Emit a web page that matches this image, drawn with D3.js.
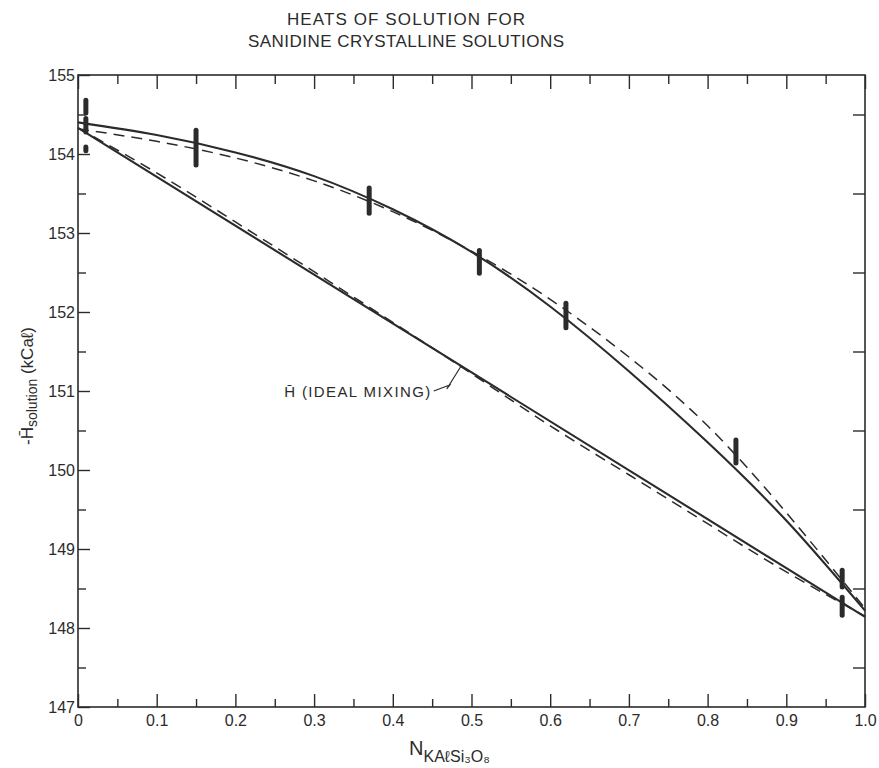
<!DOCTYPE html>
<html>
<head>
<meta charset="utf-8">
<script src="https://cdn.jsdelivr.net/npm/d3@7"></script>
<style>
  body { margin: 0; background: #fff; }
  text { font-family: "Liberation Sans", "DejaVu Sans", sans-serif; fill: #2b2b2b; }
</style>
</head>
<body>
<div id="chart"></div>
<script>
// data
var titleLines = ["HEATS OF SOLUTION FOR", "SANIDINE CRYSTALLINE SOLUTIONS"];
var xTicks = [0, 0.1, 0.2, 0.3, 0.4, 0.5, 0.6, 0.7, 0.8, 0.9, 1.0];
var xTickLabels = ["0", "0.1", "0.2", "0.3", "0.4", "0.5", "0.6", "0.7", "0.8", "0.9", "1.0"];
var xMinor = [0.05, 0.15, 0.25, 0.35, 0.45, 0.55, 0.65, 0.75, 0.85, 0.95];
var yTicks = [147, 148, 149, 150, 151, 152, 153, 154, 155];
var yMinor = [147.5, 148.5, 149.5, 150.5, 151.5, 152.5, 153.5, 154.5];

// measured heats: [N, low, high]
var measured = [
  [0.01, 154.52, 154.68],
  [0.01, 154.28, 154.45],
  [0.01, 154.04, 154.09],
  [0.15, 153.86, 154.30],
  [0.37, 153.25, 153.57],
  [0.51, 152.49, 152.78],
  [0.62, 151.80, 152.11],
  [0.836, 150.09, 150.38],
  [0.971, 148.52, 148.73],
  [0.971, 148.16, 148.39]
];

// fitted curves [N, -H]
var fitSolid = [[0,154.40],[0.1,154.24],[0.2,154.02],[0.3,153.72],[0.4,153.30],[0.5,152.76],
  [0.6,152.07],[0.7,151.25],[0.8,150.35],[0.9,149.36],[1.0,148.22]];
var fitDashed = [[0,154.32],[0.1,154.16],[0.2,153.95],[0.3,153.66],[0.4,153.27],[0.5,152.77],
  [0.6,152.16],[0.7,151.43],[0.8,150.56],[0.9,149.46],[1.0,148.25]];
var idealSolid = [[0,154.33],[1.0,148.14]];
var idealDashed = [[0,154.33],[0.1,153.76],[0.2,153.14],[0.3,152.51],[0.4,151.87],[0.5,151.22],
  [0.6,150.56],[0.7,149.94],[0.8,149.32],[0.9,148.71],[1.0,148.15]];

var ink = "#2b2b2b";

function chart(){
  var margin = {top: 75, right: 14, bottom: 61, left: 78};
  var width = 879 - margin.left - margin.right, height = 768 - margin.top - margin.bottom;

  var root = d3.select("#chart")
    .append("svg")
    .attr("width", 879)
    .attr("height", 768);

  var svg = root.append("g")
    .attr("transform", "translate(" + margin.left + "," + margin.top + ")");

  var x = d3.scaleLinear().domain([0, 1]).range([0, width]);
  var y = d3.scaleLinear().domain([147, 155]).range([height, 0]);

  // title
  root.selectAll(".title")
    .data(titleLines)
    .enter()
    .append("text")
    .attr("x", 406)
    .attr("y", function(d, i){ return 25 + i * 22; })
    .attr("text-anchor", "middle")
    .attr("font-size", 17)
    .attr("textLength", function(d, i){ return i == 0 ? 238 : 316; })
    .attr("lengthAdjust", "spacing")
    .text(function(d){ return d; });

  // frame
  svg.append("rect")
    .attr("width", width)
    .attr("height", height)
    .attr("fill", "none")
    .attr("stroke", ink)
    .attr("stroke-width", 1.6);

  function styleAxis(g){
    g.select(".domain").remove();
    g.selectAll("line").attr("stroke", ink).attr("stroke-width", 1.4);
    g.selectAll("text").attr("font-size", 16).attr("fill", ink).style("font-family", "Liberation Sans, sans-serif");
  }

  // bottom axis
  svg.append("g")
    .attr("transform", "translate(0," + height + ")")
    .call(d3.axisBottom(x).tickValues(xTicks).tickSize(-13).tickPadding(8)
      .tickFormat(function(d, i){ return xTickLabels[i]; }))
    .call(styleAxis);
  svg.append("g")
    .attr("transform", "translate(0," + height + ")")
    .call(d3.axisBottom(x).tickValues(xMinor).tickSize(-8).tickFormat(""))
    .call(styleAxis);

  // top axis
  svg.append("g")
    .call(d3.axisTop(x).tickValues(xTicks).tickSize(-14).tickFormat(""))
    .call(styleAxis);
  svg.append("g")
    .call(d3.axisTop(x).tickValues(xMinor).tickSize(-9).tickFormat(""))
    .call(styleAxis);

  // left axis
  svg.append("g")
    .call(d3.axisLeft(y).tickValues(yTicks).tickSize(-12).tickPadding(3).tickFormat(d3.format("d")))
    .call(styleAxis);
  svg.append("g")
    .call(d3.axisLeft(y).tickValues(yMinor).tickSize(-8).tickFormat(""))
    .call(styleAxis);

  // right axis
  svg.append("g")
    .attr("transform", "translate(" + width + ",0)")
    .call(d3.axisRight(y).tickValues(yMinor).tickSize(-12).tickFormat(""))
    .call(styleAxis);

  // axis labels
  var xl = root.append("text")
    .attr("x", 409)
    .attr("y", 755)
    .attr("font-size", 20);
  xl.append("tspan").text("N");
  xl.append("tspan").attr("dy", 7).attr("font-size", 16).text("KAℓSi₃O₈");

  var yl = root.append("text")
    .attr("transform", "translate(33,386) rotate(-90)")
    .attr("text-anchor", "middle")
    .attr("font-size", 17);
  yl.append("tspan").text("-H\u0304");
  yl.append("tspan").attr("dy", 4).attr("font-size", 14).text("solution");
  yl.append("tspan").attr("dy", -4).text(" (kCaℓ)");

  // curves
  var line = d3.line()
    .x(function(d){ return x(d[0]); })
    .y(function(d){ return y(d[1]); })
    .curve(d3.curveNatural);

  var curves = [
    {data: fitSolid, dash: null},
    {data: fitDashed, dash: "11,7"},
    {data: idealSolid, dash: null},
    {data: idealDashed, dash: "11,7"}
  ];
  svg.selectAll(".curve")
    .data(curves)
    .enter()
    .append("path")
    .attr("d", function(d){ return line(d.data); })
    .attr("fill", "none")
    .attr("stroke", ink)
    .attr("stroke-width", function(d){ return d.dash ? 1.5 : 2.1; })
    .attr("stroke-dasharray", function(d){ return d.dash; });

  // measurement bars
  svg.selectAll(".bar")
    .data(measured)
    .enter()
    .append("line")
    .attr("x1", function(d){ return x(d[0]); })
    .attr("x2", function(d){ return x(d[0]); })
    .attr("y1", function(d){ return y(d[1]); })
    .attr("y2", function(d){ return y(d[2]); })
    .attr("stroke", ink)
    .attr("stroke-width", 5)
    .attr("stroke-linecap", "round");

  // ideal mixing label with leader
  svg.append("text")
    .attr("x", x(0.262))
    .attr("y", y(151.0) + 6)
    .attr("font-size", 15)
    .attr("textLength", 146)
    .attr("lengthAdjust", "spacing")
    .text("H\u0304 (IDEAL MIXING)");

  var px = x(0.452), py = y(151.0), tx = x(0.487), ty = y(151.32);
  svg.append("path")
    .attr("d", "M" + px + "," + py + " L" + (px + 16) + "," + (py - 6) + " L" + (px + 13) + "," + (py - 2)
      + " L" + tx + "," + ty)
    .attr("fill", "none")
    .attr("stroke", ink)
    .attr("stroke-width", 1.2);
}

chart();
</script>
</body>
</html>
